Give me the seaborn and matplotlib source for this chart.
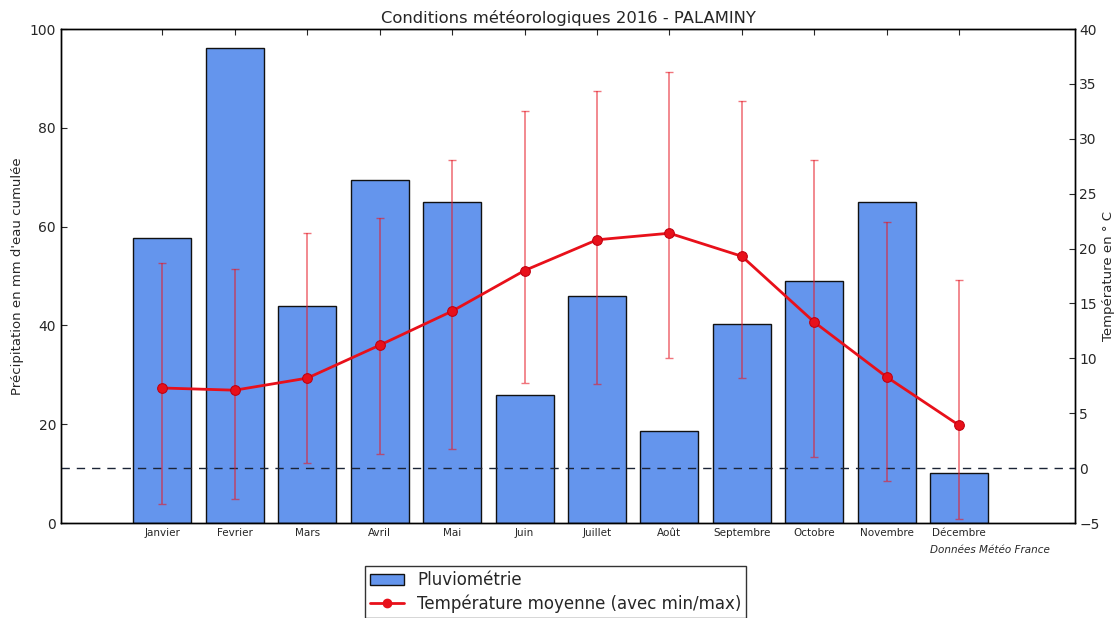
import matplotlib
matplotlib.use("Agg")
import matplotlib.pyplot as plt
import seaborn as sns
import pandas as pd
import numpy as np
from matplotlib.patches import Patch
from matplotlib.lines import Line2D

# Monthly weather data, Palaminy 2016
mois = ["Janvier", "Fevrier", "Mars", "Avril", "Mai", "Juin",
        "Juillet", "Août", "Septembre", "Octobre", "Novembre", "Décembre"]
pluie = [57.6, 96.2, 43.9, 69.4, 65.0, 26.0, 45.9, 18.6, 40.2, 49.0, 65.0, 10.1]
t_moy = [7.3, 7.1, 8.2, 11.2, 14.3, 18.0, 20.8, 21.4, 19.3, 13.3, 8.3, 3.9]
t_min = [-3.3, -2.8, 0.5, 1.3, 1.7, 7.8, 7.7, 10.0, 8.2, 1.0, -1.2, -4.6]
t_max = [18.7, 18.1, 21.4, 22.8, 28.1, 32.5, 34.4, 36.1, 33.4, 28.1, 22.4, 17.1]

df = pd.DataFrame({"mois": mois, "pluie": pluie, "t_moy": t_moy,
                   "t_min": t_min, "t_max": t_max})
df["pos"] = np.arange(len(df))

sns.set_style("white")
plt.rcParams["font.family"] = ["DejaVu Sans"]

fig = plt.figure(figsize=(11.19, 6.18), dpi=100)
ax = fig.add_axes([0.0545, 0.1537, 0.9062, 0.7993])

# Precipitation bars (left axis)
sns.barplot(data=df, x="mois", y="pluie", ax=ax, color="#6495ED",
            saturation=1, width=0.8, edgecolor="#111111", linewidth=1.0)
ax.set_xlim(-1.4, 12.6)
ax.set_ylim(0, 100)
ax.set_yticks([0, 20, 40, 60, 80, 100])
ax.set_xlabel("")
ax.set_ylabel("Précipitation en mm d'eau cumulée", fontsize=9.5)
ax.tick_params(axis="y", direction="in", labelsize=10, length=4)
ax.tick_params(axis="x", direction="in", labelsize=7.5, length=4, top=True)
ax.set_title("Conditions météorologiques 2016 - PALAMINY", fontsize=11.8, pad=4)

# Mean temperature with min/max range (right axis)
ax2 = ax.twinx()
ax2.axhline(0, color="#1b2436", linestyle="--", linewidth=1.0, dashes=(6, 5))
yerr = [df["t_moy"] - df["t_min"], df["t_max"] - df["t_moy"]]
ax2.errorbar(df["pos"], df["t_moy"], yerr=yerr, fmt="none",
             ecolor=(0.9, 0.1, 0.15, 0.6), elinewidth=1.2, capsize=3)
sns.lineplot(data=df, x="pos", y="t_moy", ax=ax2, color="#e8101a",
             linewidth=2, marker="o", markersize=7,
             markeredgecolor="#c00010", markerfacecolor="#e8101a")
ax2.set_ylim(-5, 40)
ax2.set_yticks(range(-5, 41, 5))
ax2.set_xlim(-1.4, 12.6)
ax2.set_xlabel("")
ax2.set_ylabel("Température en ° C", fontsize=9.5, labelpad=2)
ax2.tick_params(axis="y", direction="in", labelsize=10, length=4, pad=3)

for a in (ax, ax2):
    for s in a.spines.values():
        s.set_color("black")
        s.set_linewidth(1.0)

# Source note
ax.text(0.975, -0.055, "Données Météo France", transform=ax.transAxes,
        ha="right", va="center", fontsize=7.5, style="italic")

# Legend below the plot
handles = [Patch(facecolor="#6495ED", edgecolor="#111111"),
           Line2D([0], [0], color="#e8101a", lw=2, marker="o", markersize=6)]
leg = ax2.legend(handles, ["Pluviométrie", "Température moyenne (avec min/max)"],
                 loc="upper center", bbox_to_anchor=(0.488, -0.088),
                 fontsize=12, frameon=True, fancybox=False, handlelength=2,
                 borderaxespad=0, borderpad=0.3, labelspacing=0.3)
leg.get_frame().set_edgecolor("black")
leg.get_frame().set_linewidth(1.0)

fig.savefig("out.png", dpi=100)
